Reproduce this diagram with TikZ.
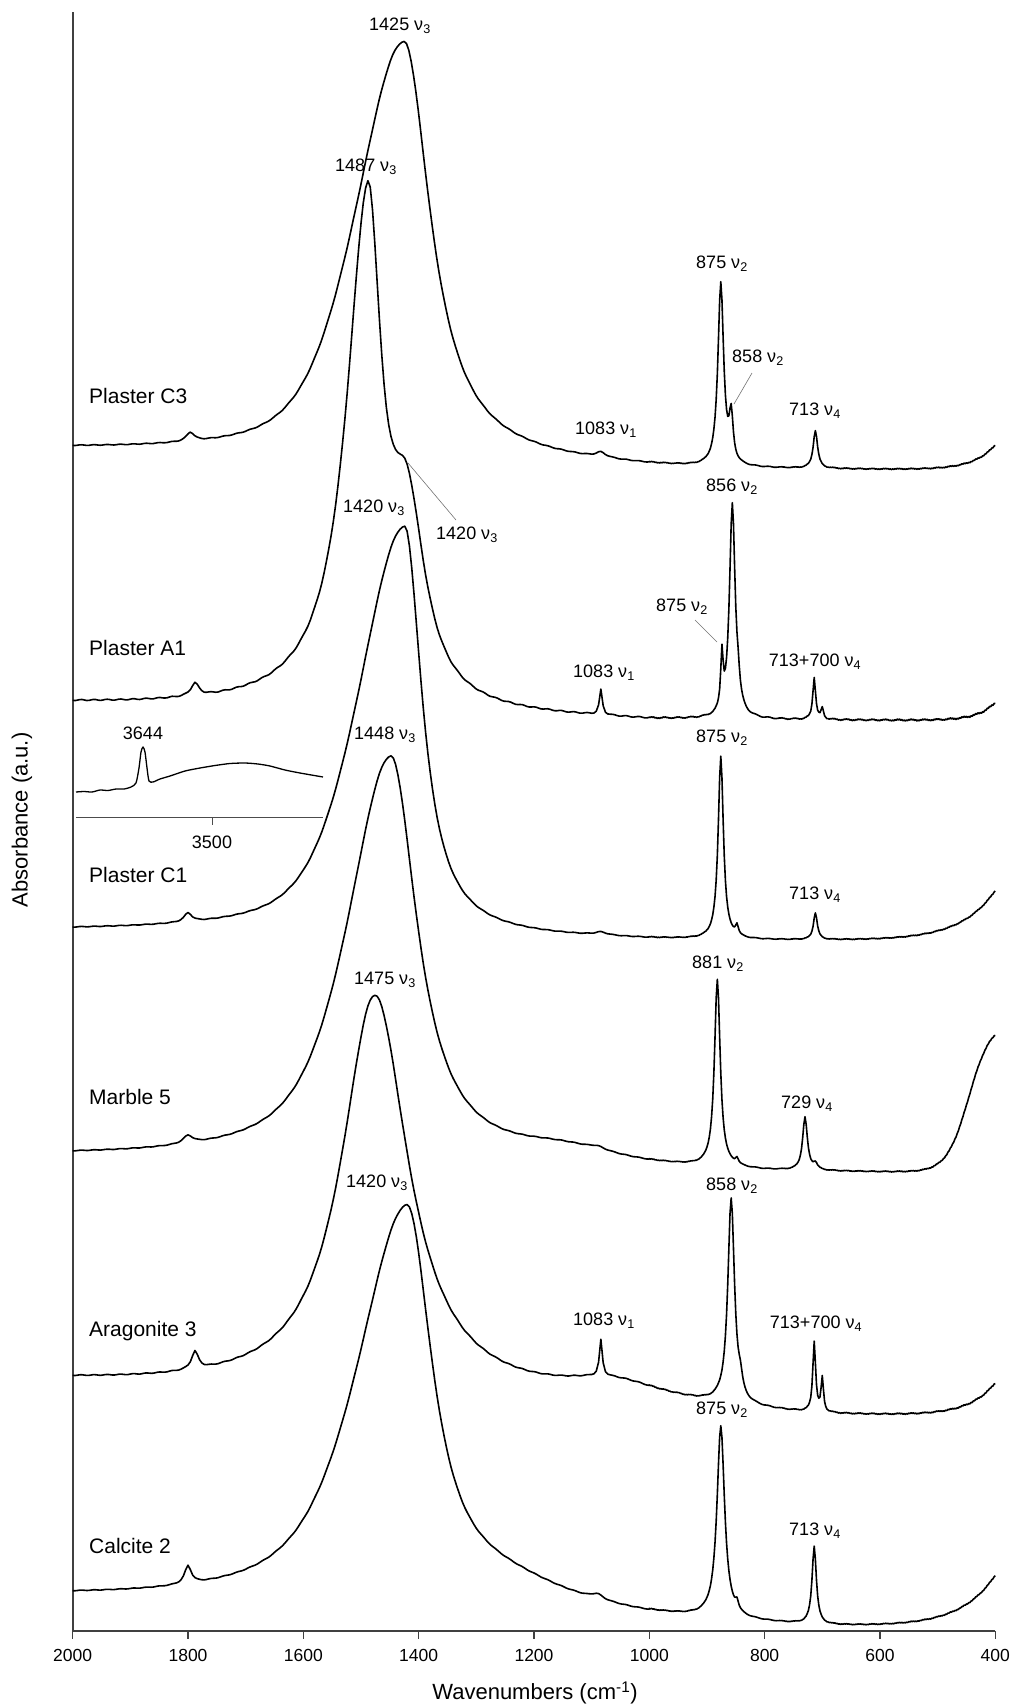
\documentclass[tikz,border=0pt]{standalone}
\usepackage{fontspec}
\setmainfont{Liberation Sans}
\pgfmathdeclarefunction{lz}{4}{\pgfmathparse{(#4)/(1+(min(abs(((#1)-(#2))/(#3)),120))^2)}}
\pgfmathdeclarefunction{pvs}{5}{\pgfmathparse{(#5)*((#4)/(1+(min(abs(((#1)-(#2))/(#3)),120))^2)+(1-(#4))*exp(-min(0.693*(min(abs(((#1)-(#2))/(#3)),120))^2,20)))}}
\pgfmathdeclarefunction{rs}{3}{\pgfmathparse{(#3)*exp(max(-((#1)-400)/(#2),-12))}}
\pgfmathdeclarefunction{lg}{4}{\pgfmathparse{(#4)/(1+exp(min(((#1)-(#2))/(#3),9)))}}
\pgfmathdeclarefunction{bl}{4}{\pgfmathparse{(#2)-((#2)-(#3))*(max((#1)-(#4),0)/(2000-(#4)))}}
\pgfmathdeclarefunction{nz}{2}{\pgfmathparse{(#2)*sin(mod(#1,97)*37)*cos(mod(#1,61)*53)}}
\begin{document}
\begin{tikzpicture}[x=1pt,y=-1pt,
  spec/.style={line width=1.6pt, black, line join=round},
  axline/.style={line width=1.8pt, black!75},
  lead/.style={line width=0.6pt, black!55},
  pk/.style={font=\fontsize{18}{20}\selectfont, inner sep=0pt},
  smp/.style={font=\fontsize{21}{24}\selectfont, inner sep=0pt, anchor=west},
  tk/.style={font=\fontsize{17.5}{20}\selectfont, inner sep=0pt},
  ttl/.style={font=\fontsize{22}{25}\selectfont, inner sep=0pt}]
\useasboundingbox (0,0) rectangle (1016,1708);
\fill[white] (0,0) rectangle (1016,1708);
% axes
\coordinate (O) at (72.7,1631);
\coordinate (Ytop) at (72.7,12);
\coordinate (Xend) at (995.3,1631);
\draw[axline] (Ytop) -- (O) -- (Xend);
\begin{scope}[x=-0.5766pt, xshift=1225.9pt]
  \foreach \w in {2000,1800,...,400}{
    \coordinate (tka\w) at (\w,1631);
    \coordinate (tkb\w) at (\w,1639);
    \draw[axline, line width=1.2pt] (tka\w) -- (tkb\w);
    \node[tk] (tl\w) at (\w,1655) {\w};
  }
  % Plaster C3
  \draw[spec] plot[domain=2000:1425, samples=145] (\x,{bl(\x,471,451,900)-pvs(\x,1425,100,0.5,420)-lz(\x,1796,8,9)+nz(\x,0.7)})
   -- plot[domain=1425:1000, samples=107] (\x,{bl(\x,471,451,900)-lz(\x,1425,55,420)-lz(\x,1084,10,5)+nz(\x,0.7)})
   -- plot[domain=1000:400, samples=301] (\x,{bl(\x,471,451,900)-lz(\x,1425,55,420)-lz(\x,876,6,183)-lz(\x,858,4,45)-lz(\x,712,4.5,38)-rs(\x,37,25)+nz(\x,0.7)});
  % Plaster A1
  \draw[spec] plot[domain=2000:1488, samples=129] (\x,{bl(\x,721,704,1000)-lz(\x,1488,45,489)-lz(\x,1420,38,178)-lz(\x,1788,8,13)+nz(\x,1.1)})
   -- plot[domain=1488:1000, samples=123] (\x,{bl(\x,721,704,1000)-lz(\x,1488,28,489)-lz(\x,1420,38,178)-lz(\x,1084,3,25)+nz(\x,1.1)})
   -- plot[domain=1000:400, samples=301] (\x,{721-lz(\x,1488,28,489)-lz(\x,1420,38,178)-lz(\x,856,6,214)-lz(\x,874,2.5,54)-lz(\x,846,3,15)-lz(\x,714,3,42)-lz(\x,700,2.5,11)-rs(\x,30,18)+nz(\x,1.1)});
  % Plaster C1
  \draw[spec] plot[domain=2000:1424, samples=145] (\x,{bl(\x,941,932,900)-pvs(\x,1424,95,0.5,410)-lz(\x,1800,8,9)+nz(\x,0.6)})
   -- plot[domain=1424:1000, samples=107] (\x,{bl(\x,941,932,900)-lz(\x,1424,36,410)-lz(\x,1084,12,3)+nz(\x,0.6)})
   -- plot[domain=1000:400, samples=301] (\x,{bl(\x,941,932,900)-lz(\x,1424,36,410)-lz(\x,876,5.5,183)-lz(\x,848,3,10)-lz(\x,712,4,27)-rs(\x,60,50)+nz(\x,0.6)});
  % Marble 5
  \draw[spec] plot[domain=2000:1448, samples=139] (\x,{bl(\x,1174,1158,800)-pvs(\x,1448,90,0.7,407)-lz(\x,1150,120,15)-lz(\x,1800,10,8)+nz(\x,0.6)})
   -- plot[domain=1448:1000, samples=113] (\x,{bl(\x,1174,1158,800)-lz(\x,1448,55,407)-lz(\x,1150,120,15)-lz(\x,1090,15,3)+nz(\x,0.6)})
   -- plot[domain=1000:400, samples=301] (\x,{bl(\x,1174,1158,800)-lz(\x,1448,55,407)-lz(\x,1150,120,15)-lz(\x,882,6,187)-lz(\x,848,3,6)-lz(\x,730,5,53)-lz(\x,712,4,6)-lg(\x,446,19,150)+nz(\x,0.6)});
  % Aragonite 3
  \draw[spec] plot[domain=2000:1476, samples=132] (\x,{bl(\x,1418,1382,700)-lz(\x,1476,70,400)-lz(\x,1788,7,18)-lz(\x,1060,110,20)+nz(\x,0.8)})
   -- plot[domain=1476:1000, samples=120] (\x,{bl(\x,1418,1382,700)-lz(\x,1476,70,400)-lz(\x,1060,110,20)-lz(\x,1084,3,36)+nz(\x,0.8)})
   -- plot[domain=1000:400, samples=301] (\x,{bl(\x,1418,1382,700)-lz(\x,1476,70,400)-lz(\x,1060,110,20)-lz(\x,858,7,205)-lz(\x,842,4,12)-lz(\x,714,3,70)-lz(\x,700,2.5,34)-rs(\x,45,33)+nz(\x,0.8)});
  % Calcite 2
  \draw[spec] plot[domain=2000:1420, samples=146] (\x,{bl(\x,1629,1600,700)-pvs(\x,1420,105,0.7,397)-lz(\x,1250,150,25)-lz(\x,1800,7,18)+nz(\x,0.6)})
   -- plot[domain=1420:1000, samples=106] (\x,{bl(\x,1629,1600,700)-lz(\x,1420,53,397)-lz(\x,1250,150,25)-lz(\x,1090,12,5)+nz(\x,0.6)})
   -- plot[domain=1000:400, samples=301] (\x,{bl(\x,1629,1600,700)-lz(\x,1420,53,397)-lz(\x,1250,150,25)-lz(\x,876,8,192)-lz(\x,848,3,8)-lz(\x,714,4.5,78)-rs(\x,60,52)+nz(\x,0.6)});
\end{scope}
% inset
\coordinate (inA) at (76,817);
\coordinate (inB) at (323,817);
\coordinate (inT) at (212,817);
\coordinate (inTb) at (212,825);
\draw[line width=1pt, black!70] (inA) -- (inB);
\draw[line width=1pt, black!70] (inT) -- (inTb);
\node[pk] (in3500) at (212,842) {3500};
\draw[spec, line width=1.3pt] plot[smooth, tension=0.4] coordinates {(76,792) (84,791.5) (92,792) (100,790) (108,790.5) (116,789) (124,789) (131,787) (136,783) (139,768) (141,752) (143,747) (145,752) (147,768) (149,781) (153,782) (160,779) (170,776) (185,771) (200,768) (215,765.5) (230,763.5) (245,763) (258,764) (270,766) (285,770) (300,773) (323,777)};
\node[pk] (l3644) at (143,733) {3644};
% sample labels
\node[smp] (nC3) at (89,396) {Plaster C3};
\node[smp] (nA1) at (89,648) {Plaster A1};
\node[smp] (nC1) at (89,875) {Plaster C1};
\node[smp] (nM5) at (89,1097) {Marble 5};
\node[smp] (nA3) at (89,1331) {Aragonite 3};
\node[smp] (nCa2) at (89,1546) {Calcite 2};
% peak labels
\node[pk] (p1) at (400,26) {1425 ν\textsubscript{3}};
\node[pk] (p2) at (722,264) {875 ν\textsubscript{2}};
\node[pk] (p3) at (758,358) {858 ν\textsubscript{2}};
\node[pk] (p4) at (606,430) {1083 ν\textsubscript{1}};
\node[pk] (p5) at (815,411) {713 ν\textsubscript{4}};
\node[pk] (p6) at (366,167) {1487 ν\textsubscript{3}};
\node[pk] (p7) at (467,535) {1420 ν\textsubscript{3}};
\node[pk] (p8) at (732,487) {856 ν\textsubscript{2}};
\node[pk] (p9) at (682,607) {875 ν\textsubscript{2}};
\node[pk] (p10) at (604,673) {1083 ν\textsubscript{1}};
\node[pk] (p11) at (815,662) {713+700 ν\textsubscript{4}};
\node[pk] (p12) at (374,508) {1420 ν\textsubscript{3}};
\node[pk] (p13) at (722,738) {875 ν\textsubscript{2}};
\node[pk] (p14) at (815,895) {713 ν\textsubscript{4}};
\node[pk] (p15) at (385,735) {1448 ν\textsubscript{3}};
\node[pk] (p16) at (718,964) {881 ν\textsubscript{2}};
\node[pk] (p17) at (807,1104) {729 ν\textsubscript{4}};
\node[pk] (p18) at (385,980) {1475 ν\textsubscript{3}};
\node[pk] (p19) at (604,1321) {1083 ν\textsubscript{1}};
\node[pk] (p20) at (732,1186) {858 ν\textsubscript{2}};
\node[pk] (p21) at (816,1324) {713+700 ν\textsubscript{4}};
\node[pk] (p22) at (377,1183) {1420 ν\textsubscript{3}};
\node[pk] (p23) at (722,1410) {875 ν\textsubscript{2}};
\node[pk] (p24) at (815,1531) {713 ν\textsubscript{4}};
% leader lines
\coordinate (e3) at (734,404);
\coordinate (s3) at (752,373);
\draw[lead] (s3) -- (e3);
\coordinate (s7) at (456,520);
\coordinate (e7) at (408,463);
\draw[lead] (s7) -- (e7);
\coordinate (s9) at (695,620);
\coordinate (e9) at (717,642);
\draw[lead] (s9) -- (e9);
% axis titles
\node[ttl, rotate=90] (ylab) at (22,820) {Absorbance (a.u.)};
\node[ttl] (xlab) at (535,1693) {Wavenumbers (cm\textsuperscript{-1})};
\end{tikzpicture}
\end{document}
